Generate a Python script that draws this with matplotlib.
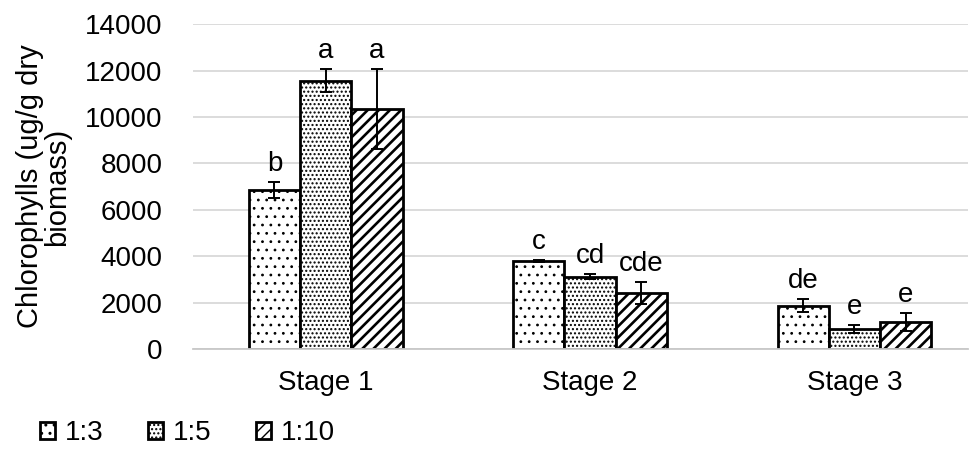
import numpy as np
import matplotlib.pyplot as plt

plt.rcParams['font.family'] = ['Liberation Sans', 'DejaVu Sans']

# chlorophyll content per stage and ratio
stages = ["Stage 1", "Stage 2", "Stage 3"]
ratios = ["1:3", "1:5", "1:10"]
means = {
    "1:3": [6850, 3800, 1870],
    "1:5": [11560, 3115, 865],
    "1:10": [10340, 2400, 1165],
}
errors = {
    "1:3": [330, 30, 275],
    "1:5": [500, 120, 170],
    "1:10": [1720, 475, 375],
}
letters = {
    "1:3": ["b", "c", "de"],
    "1:5": ["a", "cd", "e"],
    "1:10": ["a", "cde", "e"],
}
hatches = {"1:3": "..", "1:5": "....", "1:10": "///"}
hatch_lw = {"1:3": 0.8, "1:5": 1.0, "1:10": 1.9}

fig = plt.figure(figsize=(9.75, 4.55), dpi=100)
ax = fig.add_axes([0.198, 0.233, 0.795, 0.714])

x = np.arange(len(stages))
width = 0.194

for i, r in enumerate(ratios):
    pos = x + (i - 1) * width
    with plt.rc_context({'hatch.linewidth': hatch_lw[r]}):
        bars = ax.bar(pos, means[r], width, color="white", edgecolor="black",
                      linewidth=2, hatch=hatches[r], label=r, zorder=2)
    ax.errorbar(pos, means[r], yerr=errors[r], fmt="none", ecolor="black",
                elinewidth=1.4, capsize=4.5, capthick=1.4, zorder=3)
    for p, m, e, t in zip(pos, means[r], errors[r], letters[r]):
        ax.annotate(t, (p, m + e), xytext=(0, 8), textcoords="offset points",
                    ha="center", va="baseline", fontsize=20)

ax.set_ylim(0, 14000)
ax.set_xlim(-0.502, 2.43)
ax.set_yticks(range(0, 14001, 2000))
ax.set_xticks(x)
ax.set_xticklabels(stages)
ax.tick_params(axis="both", length=0, labelsize=20)
ax.tick_params(axis="y", pad=22)
ax.tick_params(axis="x", pad=15)

ax.grid(axis="y", color="#d9d9d9", linewidth=1.3, zorder=0)
ax.set_axisbelow(True)
for s in ["top", "right", "left"]:
    ax.spines[s].set_visible(False)
ax.spines["bottom"].set_color("#c8c8c8")
ax.spines["bottom"].set_linewidth(1.3)

ax.set_ylabel("Chlorophylls (ug/g dry\nbiomass)", fontsize=21, linespacing=0.95)
ax.yaxis.set_label_coords(-0.158, 0.5)

fig.legend(loc="center left", bbox_to_anchor=(0.041, 22 / 455), ncol=3,
           frameon=False, fontsize=20, handlelength=0.55, handleheight=0.55,
           handletextpad=0.35, columnspacing=1.6, borderpad=0, borderaxespad=0)

plt.savefig("out.png", dpi=100)
